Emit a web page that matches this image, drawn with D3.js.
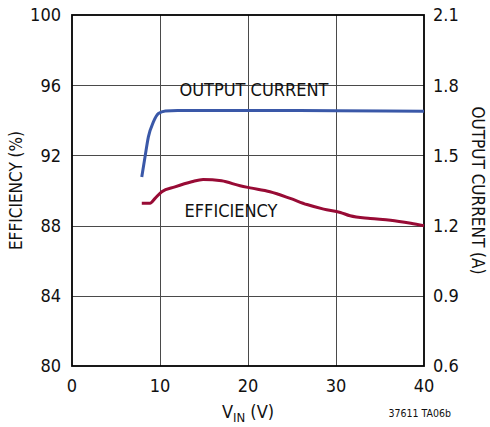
<!DOCTYPE html>
<html>
<head>
<meta charset="utf-8">
<script src="https://cdn.jsdelivr.net/npm/d3@7"></script>
<style>
  body { margin: 0; background: #fff; }
  text { font-family: "Liberation Sans Narrow", "Arial Narrow", "DejaVu Sans Condensed", sans-serif; fill: #111; }
</style>
</head>
<body>
<script>
// efficiency (%) vs VIN (V), left axis
var effVin = [7.93, 8.87, 9.44, 10.2, 11.7, 13.6, 14.9, 17.0, 19.1, 20.25, 22.5, 24.8, 26.7, 28.6, 30.5, 31.6, 33.9, 36.2, 38.5, 40];
var effVal = [89.28, 89.28, 89.55, 89.93, 90.21, 90.50, 90.63, 90.55, 90.27, 90.15, 89.93, 89.55, 89.2, 88.94, 88.75, 88.56, 88.41, 88.31, 88.13, 87.99];

// output current (A) vs VIN (V), right axis
var curVin = [7.93, 8.3, 8.68, 9.25, 9.82, 10.6, 12, 20, 30, 40];
var curVal = [1.408, 1.494, 1.579, 1.643, 1.679, 1.690, 1.692, 1.692, 1.691, 1.689];

var xTicks = [0, 10, 20, 30, 40];
var effTicks = [80, 84, 88, 92, 96, 100];
var curTicks = [0.6, 0.9, 1.2, 1.5, 1.8, 2.1];

var width = 490, height = 427;
var mLeft = 72, mRight = 424, mTop = 15, mBottom = 366;

var svg = d3.select("body").append("svg")
    .attr("width", width)
    .attr("height", height);

var x = d3.scaleLinear().domain([0, 40]).range([mLeft, mRight]);
var yEff = d3.scaleLinear().domain([80, 100]).range([mBottom, mTop]);
var yCur = d3.scaleLinear().domain([0.6, 2.1]).range([mBottom, mTop]);

// grid
var grid = svg.append("g").attr("stroke", "#4a4a4a").attr("stroke-width", 1);
grid.selectAll(".vg").data(xTicks.slice(1, -1)).enter().append("line")
    .attr("x1", function(d) { return Math.round(x(d)) + 0.5; })
    .attr("x2", function(d) { return Math.round(x(d)) + 0.5; })
    .attr("y1", mTop).attr("y2", mBottom);
grid.selectAll(".hg").data(effTicks.slice(1, -1)).enter().append("line")
    .attr("y1", function(d) { return Math.round(yEff(d)) + 0.5; })
    .attr("y2", function(d) { return Math.round(yEff(d)) + 0.5; })
    .attr("x1", mLeft).attr("x2", mRight);

// frame
svg.append("rect")
    .attr("x", mLeft).attr("y", mTop)
    .attr("width", mRight - mLeft).attr("height", mBottom - mTop)
    .attr("fill", "none").attr("stroke", "#000").attr("stroke-width", 1.8);

// tick labels
svg.append("g").selectAll("text").data(effTicks).enter().append("text")
    .attr("x", mLeft - 11)
    .attr("y", function(d) { return yEff(d); })
    .attr("dy", "0.36em")
    .attr("text-anchor", "end")
    .style("font-size", "18px")
    .text(function(d) { return d; });

svg.append("g").selectAll("text").data(curTicks).enter().append("text")
    .attr("x", mRight + 9)
    .attr("y", function(d) { return yCur(d); })
    .attr("dy", "0.36em")
    .attr("text-anchor", "start")
    .style("font-size", "18px")
    .text(function(d) { return d.toFixed(1); });

svg.append("g").selectAll("text").data(xTicks).enter().append("text")
    .attr("x", function(d) { return x(d); })
    .attr("y", mBottom + 26)
    .attr("text-anchor", "middle")
    .style("font-size", "18px")
    .text(function(d) { return d; });

// curves
var line = function(xs, ys, yScale) {
    return d3.line()
        .x(function(d) { return x(xs[d]); })
        .y(function(d) { return yScale(ys[d]); })
        .curve(d3.curveMonotoneX)(d3.range(xs.length));
};

svg.append("path")
    .attr("d", line(curVin, curVal, yCur))
    .attr("fill", "none").attr("stroke", "#3a58a8").attr("stroke-width", 3);

svg.append("path")
    .attr("d", line(effVin, effVal, yEff))
    .attr("fill", "none").attr("stroke", "#980b35").attr("stroke-width", 3);

// curve labels
svg.append("text").attr("x", 254).attr("y", 96)
    .attr("text-anchor", "middle").style("font-size", "18px")
    .text("OUTPUT CURRENT");
svg.append("text").attr("x", 231).attr("y", 217)
    .attr("text-anchor", "middle").style("font-size", "18px")
    .text("EFFICIENCY");

// axis titles
svg.append("text")
    .attr("transform", "translate(22," + ((mTop + mBottom) / 2) + ") rotate(-90)")
    .attr("text-anchor", "middle").style("font-size", "17px")
    .text("EFFICIENCY (%)");

svg.append("text")
    .attr("transform", "translate(472," + ((mTop + mBottom) / 2) + ") rotate(90)")
    .attr("text-anchor", "middle").style("font-size", "17px")
    .text("OUTPUT CURRENT (A)");

var xt = svg.append("text").attr("x", 248).attr("y", 418)
    .attr("text-anchor", "middle").style("font-size", "18px");
xt.append("tspan").text("V");
xt.append("tspan").attr("dy", 4).style("font-size", "13px").text("IN");
xt.append("tspan").attr("dy", -4).text(" (V)");

svg.append("text").attr("x", 451).attr("y", 417)
    .attr("text-anchor", "end").style("font-size", "10.5px")
    .text("37611 TA06b");
</script>
</body>
</html>
